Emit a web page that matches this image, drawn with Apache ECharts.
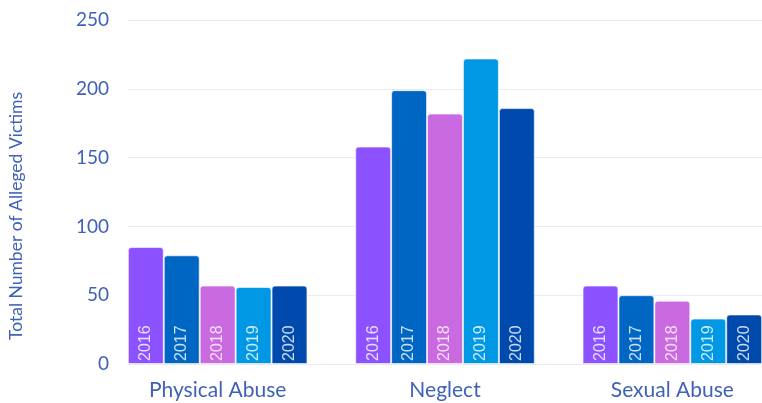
<!DOCTYPE html>
<html>
<head>
<meta charset="utf-8">
<script src="https://cdn.jsdelivr.net/npm/echarts@6/dist/echarts.min.js"></script>
<style>
  html, body { margin: 0; padding: 0; background: #fff; }
  #chart { width: 762px; height: 403px; }
</style>
</head>
<body>
<div id="chart"></div>
<script>
var categories = ['Physical Abuse', 'Neglect', 'Sexual Abuse'];
var years = ['2016', '2017', '2018', '2019', '2020'];
var values2016 = [85, 158, 57];
var values2017 = [79, 199, 50];
var values2018 = [57, 182, 46];
var values2019 = [56, 222, 33];
var values2020 = [57, 186, 36];
var yTicks = [0, 50, 100, 150, 200, 250];

var colors = ['#8c52ff', '#0066c4', '#c96ae1', '#0098e4', '#004aad'];
var allValues = [values2016, values2017, values2018, values2019, values2020];
var textColor = '#3f62b8';

var chart = echarts.init(document.getElementById('chart'));

var series = years.map(function (y, i) {
  return {
    name: y,
    type: 'bar',
    xAxisIndex: 1,
    yAxisIndex: 1,
    data: allValues[i],
    barGap: '0%',
    barCategoryGap: '21%',
    itemStyle: {
      color: colors[i],
      borderColor: 'rgba(255,255,255,0.6)',
      borderWidth: 1,
      borderRadius: [3, 3, 0, 0]
    },
    label: {
      show: true,
      position: 'insideBottom',
      rotate: 90,
      align: 'left',
      verticalAlign: 'middle',
      distance: 3,
      formatter: y,
      color: 'rgba(255,255,255,0.8)',
      fontFamily: 'Liberation Sans',
      fontSize: 16
    }
  };
});

var option = {
  animation: false,
  grid: [
    { left: 128, right: 0, top: 20, bottom: 39, outerBoundsMode: 'none' },
    { left: 104, width: 682, top: 20, bottom: 39, outerBoundsMode: 'none' }
  ],
  xAxis: [
    { gridIndex: 0, type: 'value', show: false, min: 0, max: 1 },
    {
      gridIndex: 1,
      type: 'category',
      data: categories,
      axisLine: { show: false },
      axisTick: { show: false },
      axisLabel: {
        color: textColor,
        fontFamily: 'Lato',
        fontSize: 21,
        margin: 16
      }
    }
  ],
  yAxis: [
    {
      gridIndex: 0,
      type: 'value',
      min: yTicks[0],
      max: yTicks[yTicks.length - 1],
      interval: 50,
      name: 'Total Number of Alleged Victims',
      nameLocation: 'middle',
      nameGap: 103,
      nameTextStyle: {
        color: textColor,
        fontFamily: 'Lato',
        fontSize: 17.5,
        padding: [0, 48, 0, 0]
      },
      axisLine: { show: false },
      axisTick: { show: false },
      splitLine: { lineStyle: { color: '#ebeaf8', width: 1 } },
      axisLabel: {
        color: textColor,
        fontFamily: 'Lato',
        fontSize: 19,
        margin: 19
      }
    },
    {
      gridIndex: 1,
      type: 'value',
      min: yTicks[0],
      max: yTicks[yTicks.length - 1],
      interval: 50,
      show: false,
      splitLine: { show: false }
    }
  ],
  series: series
};

chart.setOption(option);
</script>
</body>
</html>
